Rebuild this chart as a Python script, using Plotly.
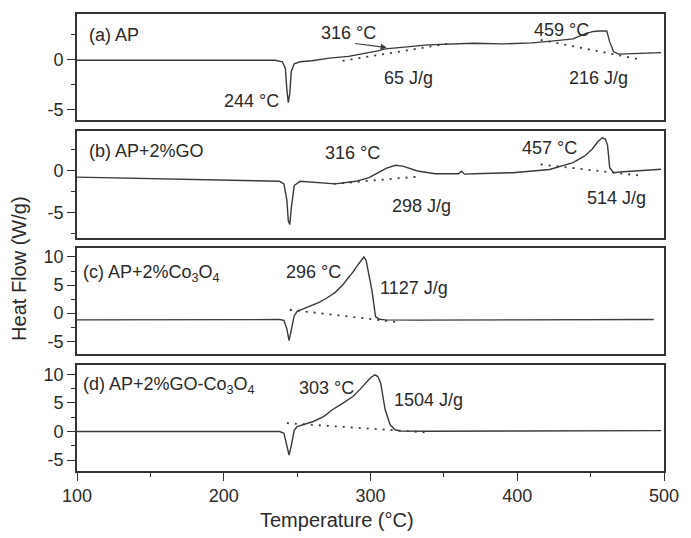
import plotly.graph_objects as go
from plotly.subplots import make_subplots

# ---------------- data ----------------
T_a = [100, 150, 200, 235, 240, 242, 243, 244, 245, 246, 248, 252, 260, 272, 285, 294, 305, 310,
       316, 325, 339, 355, 370, 390, 410, 425, 438, 446, 452, 456, 461, 463, 465.6, 469, 480, 490, 498]
Q_a = [-0.05, -0.05, -0.05, -0.05, -0.2, -0.9, -3.0, -4.3, -3.4, -1.2, -0.4, -0.2, -0.1, 0.17, 0.35,
       0.57, 0.9, 1.1, 1.2, 1.3, 1.5, 1.55, 1.67, 1.6, 1.7, 1.9, 2.1, 2.6, 2.85, 2.9, 2.9, 1.8, 0.83,
       0.57, 0.6, 0.65, 0.72]

T_b = [100, 150, 200, 238, 241, 243, 244, 245, 246, 248, 252, 260, 276, 290, 299, 305, 311, 317,
       322, 332, 344, 355, 360, 362, 364, 371, 397, 422, 438, 446, 451, 455, 458, 460, 461.5, 463,
       465.6, 470, 485, 498]
Q_b = [-0.8, -1.0, -1.15, -1.3, -1.6, -3.5, -6.0, -6.4, -4.5, -1.8, -1.3, -1.4, -1.6, -1.3, -0.87,
       -0.3, 0.25, 0.6, 0.5, -0.08, -0.4, -0.4, -0.4, -0.1, -0.45, -0.4, -0.28, 0.1, 0.9, 1.7, 2.5,
       3.4, 3.85, 3.7, 3.0, 0.3, -0.28, -0.2, 0.0, 0.12]

T_c = [100, 150, 200, 238, 241, 243, 244.5, 246, 248, 250, 255, 259, 265, 270, 276, 281, 285, 288,
       292, 295.5, 297, 299, 301, 303.4, 306, 310, 330, 400, 450, 493]
Q_c = [-1.2, -1.2, -1.2, -1.15, -1.3, -2.8, -4.9, -3.0, -0.5, 0.3, 0.8, 1.17, 1.9, 2.65, 3.7, 5.0,
       6.2, 7.3, 8.8, 10.0, 9.4, 7.0, 4.0, -0.6, -1.1, -1.2, -1.25, -1.2, -1.15, -1.15]

T_d = [100, 150, 200, 238, 241, 243, 244.5, 246, 248, 250, 255, 261, 268, 274, 281, 288, 293, 297,
       300, 303, 305, 307, 310, 313.4, 316.8, 320, 340, 400, 450, 498]
Q_d = [0.0, 0.0, -0.05, 0.0, -0.3, -2.5, -4.1, -2.5, 0.2, 0.87, 1.3, 1.75, 2.6, 3.8, 4.9, 6.1, 7.4,
       8.6, 9.4, 9.9, 9.6, 8.4, 3.8, 1.17, 0.3, 0.1, 0.05, 0.1, 0.1, 0.15]

# dotted integration baselines
base_T = {"a1": [281, 355], "a2": [416, 485], "b1": [275, 332], "b2": [416, 486],
          "c1": [245, 318], "d1": [243, 339]}
base_Q = {"a1": [-0.1, 1.67], "a2": [2.0, 0.0], "b1": [-1.6, -0.75], "b2": [0.7, -0.67],
          "c1": [0.6, -1.6], "d1": [1.46, -0.17]}
base_row = {"a1": 1, "a2": 1, "b1": 2, "b2": 2, "c1": 3, "d1": 4}

panel_labels = ["(a) AP", "(b) AP+2%GO", "(c) AP+2%Co<sub>3</sub>O<sub>4</sub>",
                "(d) AP+2%GO-Co<sub>3</sub>O<sub>4</sub>"]
y_ranges = [[-6, 4.6], [-8, 4.6], [-7.2, 11.6], [-6.9, 11.7]]
y_ticks = [[-5, 0], [-5, 0], [-5, 0, 5, 10], [-5, 0, 5, 10]]
x_ticks = [100, 200, 300, 400, 500]

FONT = "Liberation Sans, Arial, sans-serif"
INK = "#2a2a2a"
LINE = "#3a3a3a"

fig = make_subplots(rows=4, cols=1, shared_xaxes=True, vertical_spacing=0.02)

for i, (T, Q) in enumerate([(T_a, Q_a), (T_b, Q_b), (T_c, Q_c), (T_d, Q_d)]):
    fig.add_trace(go.Scatter(x=T, y=Q, mode="lines", line=dict(color=LINE, width=1.4),
                             showlegend=False, hoverinfo="skip"), row=i + 1, col=1)

for k in base_T:
    fig.add_trace(go.Scatter(x=base_T[k], y=base_Q[k], mode="lines",
                             line=dict(color=LINE, width=1.8, dash="2px,6px"),
                             showlegend=False, hoverinfo="skip"), row=base_row[k], col=1)

domains = [[0.769, 1.0], [0.510, 0.743], [0.257, 0.488], [0.0, 0.233]]
for i in range(4):
    xa = "xaxis" if i == 0 else f"xaxis{i+1}"
    ya = "yaxis" if i == 0 else f"yaxis{i+1}"
    fig.layout[ya].update(domain=domains[i], range=y_ranges[i],
                          tickvals=y_ticks[i], ticktext=[str(v) for v in y_ticks[i]],
                          showline=True, mirror=True, linecolor="#333", linewidth=1.6,
                          ticks="outside", ticklen=8, tickwidth=1.4, tickcolor="#333",
                          minor=dict(ticks="outside", ticklen=4, dtick=2.5, tick0=0,
                                     tickcolor="#333", tickwidth=1.2),
                          showgrid=False, zeroline=False,
                          tickfont=dict(family=FONT, size=18, color=INK))
    bottom = (i == 3)
    fig.layout[xa].update(range=[100, 500], showline=True, mirror=True, linecolor="#333",
                          linewidth=1.6, showgrid=False, zeroline=False,
                          tickvals=x_ticks, ticktext=[str(v) for v in x_ticks],
                          showticklabels=bottom,
                          ticks="outside" if bottom else "", ticklen=8, tickwidth=1.4,
                          tickcolor="#333",
                          minor=dict(ticks="outside" if bottom else "", ticklen=4,
                                     dtick=50, tick0=100, tickcolor="#333", tickwidth=1.2),
                          tickfont=dict(family=FONT, size=18, color=INK))

# ---------------- text ----------------
def ann(text, x, y, row, xanchor="center", size=18):
    ref = "" if row == 1 else str(row)
    fig.add_annotation(x=x, y=y, xref="x" + ref, yref="y" + ref, text=text, showarrow=False,
                       xanchor=xanchor, yanchor="middle",
                       font=dict(family=FONT, size=size, color=INK))

for i, lab in enumerate(panel_labels):
    ann(lab, [106.5, 106.5, 102.5, 102.5][i], [2.53, 2.28, 7.1, 7.98][i], i + 1, "left")

ann("316 °C", 284.8, 2.73, 1)
ann("459 °C", 429.9, 3.03, 1)
ann("65 J/g", 325.8, -1.87, 1)
ann("216 J/g", 455.4, -1.87, 1)
ann("244 °C", 218.8, -4.17, 1)

ann("316 °C", 287.6, 2.04, 2)
ann("457 °C", 422.1, 2.63, 2)
ann("298 J/g", 334.6, -4.2, 2)
ann("514 J/g", 467.8, -3.27, 2)

ann("296 °C", 261.4, 7.34, 3)
ann("1127 J/g", 305.4, 4.46, 3, "left")

ann("303 °C", 270.3, 7.57, 4)
ann("1504 J/g", 314.8, 5.53, 4, "left")

# arrow in panel (a)
fig.add_annotation(x=311, y=1.23, ax=288.6, ay=1.66, xref="x", yref="y", axref="x", ayref="y",
                   text="", showarrow=True, arrowhead=2, arrowsize=1, arrowwidth=1.2,
                   arrowcolor=LINE)

fig.add_annotation(x=-0.099, y=0.442, xref="paper", yref="paper", text="Heat Flow (W/g)",
                   textangle=-90, showarrow=False, xanchor="center", yanchor="middle",
                   font=dict(family=FONT, size=20, color=INK))
fig.add_annotation(x=0.443, y=-0.107, xref="paper", yref="paper",
                   text="Temperature (°C)", showarrow=False, xanchor="center", yanchor="middle",
                   font=dict(family=FONT, size=20, color=INK))

fig.update_layout(width=691, height=538, margin=dict(l=77, r=18, t=12, b=67),
                  paper_bgcolor="white", plot_bgcolor="white", showlegend=False)

fig.write_html("out.html")
